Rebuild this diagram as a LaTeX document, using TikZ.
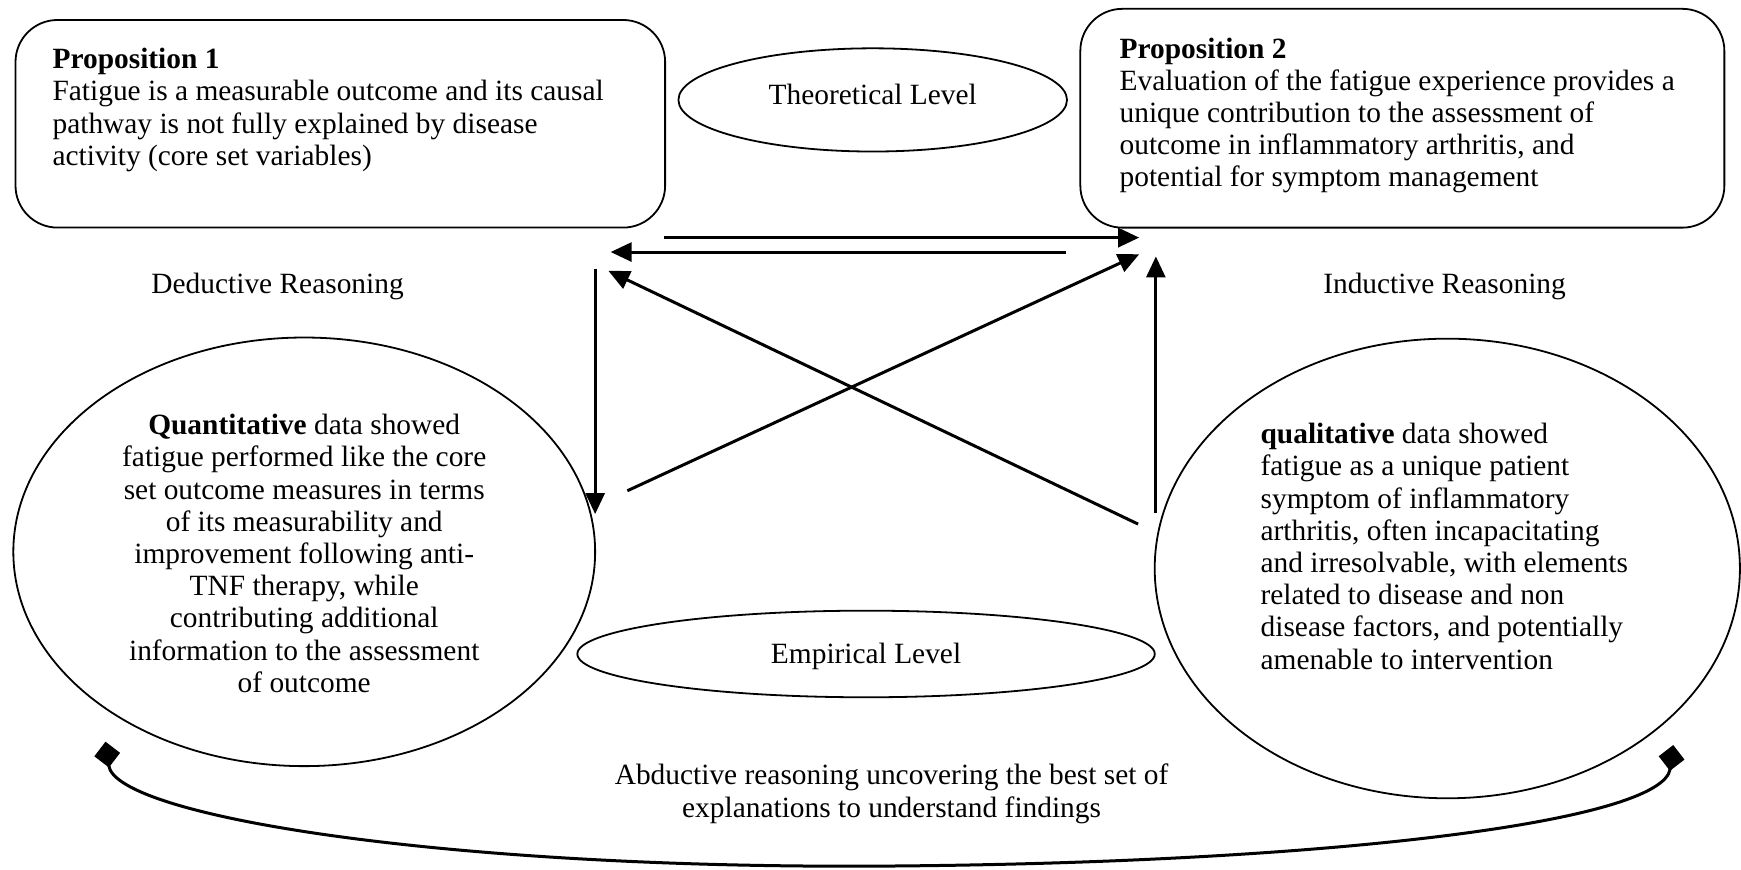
\documentclass[tikz,border=0pt]{standalone}
\usepackage{fontspec}
\setmainfont{Liberation Serif}
\usetikzlibrary{arrows.meta,shapes.geometric}
\begin{document}
\begin{tikzpicture}[x=0.55515pt,y=-0.55515pt,
  font=\fontsize{14.7}{16.1}\selectfont,
  frame/.style={draw,line width=0.9pt,rounded corners=21pt,inner sep=0pt},
  oval/.style={draw,ellipse,line width=0.9pt,inner sep=0pt},
  txt/.style={inner sep=0pt},
  link/.style={line width=1.5pt,-{Triangle[length=10.5pt,width=9.5pt]}},
  sweep/.style={line width=1.5pt,{Diamond[length=13pt,width=13pt]}-{Diamond[length=13pt,width=13pt]}}]
\useasboundingbox (0,0) rectangle (1568,783);

% propositions at the theoretical level
\node[frame,minimum width=324.8pt,minimum height=103.8pt] (p1) at (306.5,111.5) {};
\node[txt,anchor=west,align=left] (p1txt) at (47,99)
  {\textbf{Proposition 1}\\Fatigue is a measurable outcome and its causal\\pathway is not fully explained by disease\\activity (core set variables)};
\node[frame,minimum width=322pt,minimum height=109.4pt] (p2) at (1263,106.5) {};
\node[txt,anchor=west,align=left] (p2txt) at (1008,104)
  {\textbf{Proposition 2}\\Evaluation of the fatigue experience provides a\\unique contribution to the assessment of\\outcome in inflammatory arthritis, and\\potential for symptom management};

% level labels
\node[oval,minimum width=194.3pt,minimum height=51.6pt] (theo) at (786,90) {};
\node[txt] (theotxt) at (786,85) {Theoretical Level};
\node[oval,minimum width=288.7pt,minimum height=43.3pt] (emp) at (780,589) {};
\node[txt] (emptxt) at (780,591) {Empirical Level};

% findings at the empirical level
\node[oval,minimum width=290.9pt,minimum height=214.3pt] (quant) at (274,497) {};
\node[txt,align=center] (quanttxt) at (274,498.5)
  {\textbf{Quantitative} data showed\\fatigue performed like the core\\set outcome measures in terms\\of its measurability and\\improvement following anti-\\TNF therapy, while\\contributing additional\\information to the assessment\\of outcome};
\node[oval,minimum width=292.6pt,minimum height=229.8pt] (qual) at (1303.5,512) {};
\node[txt,anchor=west,align=left] (qualtxt) at (1135,492)
  {\textbf{qualitative} data showed\\fatigue as a unique patient\\symptom of inflammatory\\arthritis, often incapacitating\\and irresolvable, with elements\\related to disease and non\\disease factors, and potentially\\amenable to intervention};

% reasoning labels
\node[txt] (ded) at (250,258) {Deductive Reasoning};
\node[txt] (ind) at (1301,258) {Inductive Reasoning};
\node[txt,align=center] (abd) at (803,715)
  {Abductive reasoning uncovering the best set of\\explanations to understand findings};

% arrow end points
\coordinate (tl1) at (598,214);
\coordinate (tr1) at (1026,214);
\coordinate (tr2) at (960,227);
\coordinate (tl2) at (550,227);
\coordinate (dtop) at (536,242);
\coordinate (dbot) at (536,463);
\coordinate (xl1) at (565,442);
\coordinate (xr1) at (1026,229);
\coordinate (xr2) at (1025,472);
\coordinate (xl2) at (548,244);
\coordinate (ubot) at (1041,462);
\coordinate (utop) at (1041,231);

\draw[link] (tl1) -- (tr1);
\draw[link] (tr2) -- (tl2);
\draw[link] (dtop) -- (dbot);
\draw[link] (xl1) -- (xr1);
\draw[link] (xr2) -- (xl2);
\draw[link] (ubot) -- (utop);

% abductive sweep between the two findings
\coordinate (cl) at (95,668);
\coordinate (cb) at (800,780);
\coordinate (cr) at (1507,671);
\draw[sweep] (cl) .. controls (104,735) and (400,783) .. (cb)
  .. controls (1200,777) and (1498,740) .. (cr);
\end{tikzpicture}
\end{document}
